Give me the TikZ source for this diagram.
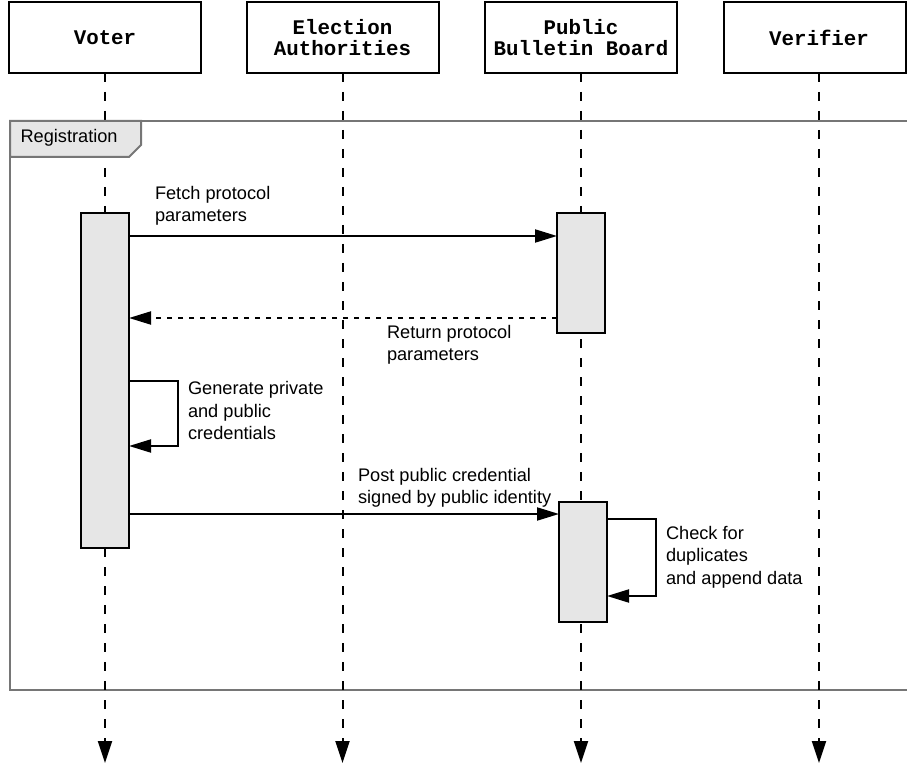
\documentclass[tikz,border=0pt]{standalone}
\usepackage{fontspec}
\setmainfont{Liberation Sans}
\newfontfamily\headfont{Liberation Mono}
\usetikzlibrary{arrows.meta}

\definecolor{actfill}{HTML}{E6E6E6}
\definecolor{framegray}{HTML}{767676}

\begin{document}
\begin{tikzpicture}[x=1pt,y=-1pt,
  every node/.style={inner sep=0pt, outer sep=0pt},
  headbox/.style={draw, line width=2pt, fill=white, minimum width=192pt,
    minimum height=71pt, align=center,
    font=\headfont\bfseries\fontsize{20.8}{21}\selectfont},
  headtext/.style={align=center, font=\headfont\bfseries\fontsize{20.8}{21}\selectfont},
  lifeline/.style={line width=2pt, dash pattern=on 9pt off 10pt,
    -{Triangle[length=22pt,width=14pt]}},
  act/.style={draw, line width=2pt, fill=actfill, minimum width=48pt},
  msg/.style={line width=2pt, -{Triangle[length=22pt,width=13pt]}},
  reply/.style={msg, dash pattern=on 5pt off 6pt},
  frameline/.style={draw=framegray, line width=2pt},
  lbl/.style={font=\fontsize{18.2}{22.3}\selectfont, align=left, anchor=base west}
]
\useasboundingbox (0,0) rectangle (907,767);

% combined fragment frame
\draw[frameline] (907,121) -- (10,121) -- (10,690) -- (907,690);

% participants
\node[headbox] (voter) at (105,37.5) {Voter};
\node[headbox] (ea) at (342.5,37.5) {Election\\Authorities};
\node[headbox] (pbb) at (581,37.5) {Public\\Bulletin Board};
\node[headbox, minimum width=182pt,
  label={[headtext, xshift=4pt]center:Verifier}] (ver) at (815,37.5) {};

% lifelines
\coordinate (bottom) at (0,763);
\draw[lifeline] (voter.south) -- (voter.south |- bottom);
\draw[lifeline] (ea.south) -- (ea.south |- bottom);
\draw[lifeline] (pbb.south) -- (pbb.south |- bottom);
\draw[lifeline] ([xshift=4pt]ver.south) -- ([xshift=4pt]ver.south |- bottom);

% fragment tag
\draw[frameline, fill=actfill] (10,121) -- (141,121) -- (141,145) -- (129,157)
  -- (10,157) -- cycle;
\node[lbl] (reg) at (20.5,142.5) {Registration};

% activations
\node[act, minimum height=335pt] (va) at (105,380.5) {};
\node[act, minimum height=120pt] (pa1) at (581,273) {};
\node[act, minimum height=120pt] (pa2) at (583,562) {};

% message levels
\coordinate (y1) at (0,236);
\coordinate (y2) at (0,318);
\coordinate (y3a) at (178,381);
\coordinate (y3b) at (178,446);
\coordinate (y4) at (0,514);
\coordinate (y5a) at (656,519);
\coordinate (y5b) at (656,596);

% messages
\draw[msg] (va.east |- y1) -- (pa1.west |- y1);
\draw[reply] (pa1.west |- y2) -- (va.east |- y2);
\draw[msg] (va.east |- y3a) -- (y3a) -- (y3b) -- (va.east |- y3b);
\draw[msg] (va.east |- y4) -- (pa2.west |- y4);
\draw[msg] (pa2.east |- y5a) -- (y5a) -- (y5b) -- (pa2.east |- y5b);

% message labels (anchored at the baseline of the last line)
\node[lbl] (t1) at (155,221.5) {Fetch protocol\\parameters};
\node[lbl] (t2) at (387,360.5) {Return protocol\\parameters};
\node[lbl] (t3) at (188,439.5) {Generate private\\and public\\credentials};
\node[lbl] (t4) at (358,503.5) {Post public credential\\signed by public identity};
\node[lbl] (t5) at (666,584) {Check for\\duplicates\\and append data};
\end{tikzpicture}
\end{document}
